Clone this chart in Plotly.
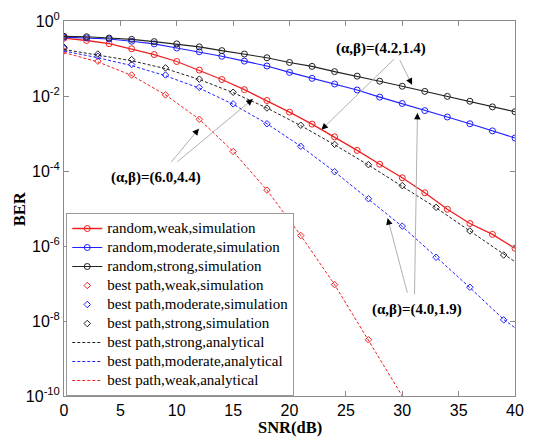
import numpy as np
import plotly.graph_objects as go

# ---------------- data (BER values read as log10 exponents) ----------------
snr_random = list(range(0, 41, 2))
snr_best = list(range(0, 40, 3))
snr_analytical = list(range(0, 40, 3)) + [40]
snr_weak_analytical = list(range(0, 31, 3))

rand_weak_log = [-0.456, -0.52, -0.605, -0.74, -0.895, -1.08, -1.31, -1.56, -1.83, -2.12, -2.43,
                 -2.75, -3.09, -3.45, -3.82, -4.18, -4.58, -5.02, -5.40, -5.69, -6.06]
rand_moderate_log = [-0.43, -0.45, -0.48, -0.54, -0.61, -0.72, -0.82, -0.94, -1.07, -1.20, -1.37,
                     -1.53, -1.68, -1.84, -2.03, -2.20, -2.39, -2.56, -2.74, -2.93, -3.12]
rand_strong_log = [-0.41, -0.42, -0.455, -0.49, -0.55, -0.61, -0.69, -0.79, -0.88, -0.98, -1.105,
                   -1.21, -1.35, -1.47, -1.605, -1.74, -1.877, -2.01, -2.14, -2.29, -2.42]

best_weak_sim_log = [-0.80, -1.07, -1.44, -1.97, -2.62, -3.48, -4.51, -5.72, -7.03, -8.50]
best_moderate_sim_log = [-0.73, -0.94, -1.16, -1.44, -1.77, -2.21, -2.74, -3.34, -4.02, -4.74,
                         -5.47, -6.30, -7.10, -7.97]
best_strong_sim_log = [-0.70, -0.88, -1.03, -1.25, -1.55, -1.90, -2.32, -2.78, -3.29, -3.83,
                       -4.39, -4.97, -5.60, -6.24]

best_strong_ana_log = [-0.76, -0.92, -1.06, -1.27, -1.56, -1.91, -2.32, -2.79, -3.30, -3.84,
                       -4.40, -4.98, -5.60, -6.23, -6.42]
best_moderate_ana_log = [-0.80, -0.98, -1.19, -1.46, -1.79, -2.22, -2.74, -3.34, -4.02, -4.74,
                         -5.48, -6.29, -7.11, -7.96, -8.18]
best_weak_ana_log = [-0.84, -1.09, -1.45, -1.97, -2.62, -3.48, -4.51, -5.72, -7.03, -8.50, -10.0]

y_tick_vals = [1e0, 1e-2, 1e-4, 1e-6, 1e-8, 1e-10]
y_tick_text = ["10<sup>0</sup>", "10<sup>-2</sup>", "10<sup>-4</sup>", "10<sup>-6</sup>",
               "10<sup>-8</sup>", "10<sup>-10</sup>"]
x_tick_vals = [0, 5, 10, 15, 20, 25, 30, 35, 40]

legend_names = ["random,weak,simulation", "random,moderate,simulation", "random,strong,simulation",
                "best path,weak,simulation", "best path,moderate,simulation",
                "best path,strong,simulation", "best path,strong,analytical",
                "best path,moderate,analytical", "best path,weak,analytical"]


def ber(v):
    return 10.0 ** np.array(v)


def lname(i):
    return '<span style="font-size:15px">' + legend_names[i] + '</span>'


RED = "#f02020"
BLUE = "#2020ff"
BLACK = "#222222"
DASH = "3px,2px"

fig = go.Figure()
fig.add_trace(go.Scatter(x=snr_random, y=ber(rand_weak_log), mode="lines+markers", name=lname(0),
                         line=dict(color=RED, width=1.3),
                         marker=dict(symbol="circle-open", size=6, color=RED, line=dict(width=1))))
fig.add_trace(go.Scatter(x=snr_random, y=ber(rand_moderate_log), mode="lines+markers", name=lname(1),
                         line=dict(color=BLUE, width=1.1),
                         marker=dict(symbol="circle-open", size=6, color=BLUE, line=dict(width=1))))
fig.add_trace(go.Scatter(x=snr_random, y=ber(rand_strong_log), mode="lines+markers", name=lname(2),
                         line=dict(color=BLACK, width=1.1),
                         marker=dict(symbol="circle-open", size=6, color=BLACK, line=dict(width=1))))
fig.add_trace(go.Scatter(x=snr_best, y=ber(best_weak_sim_log), mode="markers", name=lname(3),
                         marker=dict(symbol="diamond-open", size=5, color=RED, line=dict(width=1))))
fig.add_trace(go.Scatter(x=snr_best, y=ber(best_moderate_sim_log), mode="markers", name=lname(4),
                         marker=dict(symbol="diamond-open", size=5, color=BLUE, line=dict(width=1))))
fig.add_trace(go.Scatter(x=snr_best, y=ber(best_strong_sim_log), mode="markers", name=lname(5),
                         marker=dict(symbol="diamond-open", size=5, color=BLACK, line=dict(width=1))))
fig.add_trace(go.Scatter(x=snr_analytical, y=ber(best_strong_ana_log), mode="lines", name=lname(6),
                         line=dict(color=BLACK, width=1, dash=DASH)))
fig.add_trace(go.Scatter(x=snr_analytical, y=ber(best_moderate_ana_log), mode="lines", name=lname(7),
                         line=dict(color=BLUE, width=1, dash=DASH)))
fig.add_trace(go.Scatter(x=snr_weak_analytical, y=ber(best_weak_ana_log), mode="lines", name=lname(8),
                         line=dict(color=RED, width=1, dash=DASH)))

AXIS_COLOR = "#8a8a8a"
TICK_FONT = dict(family="Liberation Sans, Arial, sans-serif", size=16, color="black")
TITLE_FONT = dict(family="Liberation Serif, Times New Roman, serif", size=16.5, color="black")

fig.update_xaxes(range=[0, 40], tickvals=x_tick_vals, ticks="inside", ticklen=5, tickcolor=AXIS_COLOR,
                 showline=True, linecolor=AXIS_COLOR, linewidth=1, mirror="ticks", showgrid=False,
                 zeroline=False, tickfont=TICK_FONT)
fig.update_yaxes(type="log", range=[-10, 0], tickvals=y_tick_vals, ticktext=y_tick_text,
                 ticks="inside", ticklen=5, tickcolor=AXIS_COLOR, showline=True, linecolor=AXIS_COLOR,
                 linewidth=1, mirror="ticks", showgrid=False, zeroline=False, tickfont=TICK_FONT)

# axis titles
fig.add_annotation(x=0.5, y=-0.084, xref="paper", yref="paper", text="<b>SNR(dB)</b>",
                   showarrow=False, font=TITLE_FONT, xanchor="center", yanchor="middle")
fig.add_annotation(x=-0.098, y=0.5, xref="paper", yref="paper", text="<b>BER</b>", textangle=-90,
                   showarrow=False, font=TITLE_FONT, xanchor="center", yanchor="middle")

ANN_FONT = dict(family="Liberation Serif, Times New Roman, serif", size=15, color="black")
texts = [("<b>(α,β)=(6.0,4.4)</b>", 8.17, -4.18),
         ("<b>(α,β)=(4.2,1.4)</b>", 28.15, -0.72),
         ("<b>(α,β)=(4.0,1.9)</b>", 31.3, -7.69)]
for t, xx, yy in texts:
    fig.add_annotation(x=xx, y=yy, text=t, showarrow=False, font=ANN_FONT)

# arrows: tip (x, log10 y) and tail offset in px
arrows = [(11.97, -2.87, -29, 35), (16.75, -2.08, -77, 64),
          (30.87, -1.70, -13, -26), (22.83, -2.90, 74, -72),
          (28.71, -5.26, 20, 76), (31.35, -2.45, -3, 183)]
for xx, yy, ax, ay in arrows:
    fig.add_annotation(x=xx, y=yy, ax=ax, ay=ay, text="", showarrow=True, arrowhead=0,
                       arrowwidth=1, arrowcolor="#b0b0b0", standoff=0)
    L = (ax ** 2 + ay ** 2) ** 0.5
    fig.add_annotation(x=xx, y=yy, ax=ax / L * 7, ay=ay / L * 7, text="", showarrow=True, arrowhead=2,
                       arrowsize=1.3, arrowwidth=1, arrowcolor="black", standoff=0)

fig.update_layout(
    width=534, height=440,
    margin=dict(l=64, r=10, t=16, b=44),
    plot_bgcolor="white", paper_bgcolor="white",
    showlegend=True,
    legend=dict(x=0.005, y=0.0, xanchor="left", yanchor="bottom",
                bgcolor="white", bordercolor="#999999", borderwidth=1,
                font=dict(family="Liberation Serif, Times New Roman, serif", size=12, color="black"),
                tracegroupgap=0, itemwidth=30),
)

# remove the browser's default 8px body margin so the figure fills the window exactly
fig.write_html("out.html", config={"displayModeBar": False},
               post_script="document.body.style.margin='0';")
